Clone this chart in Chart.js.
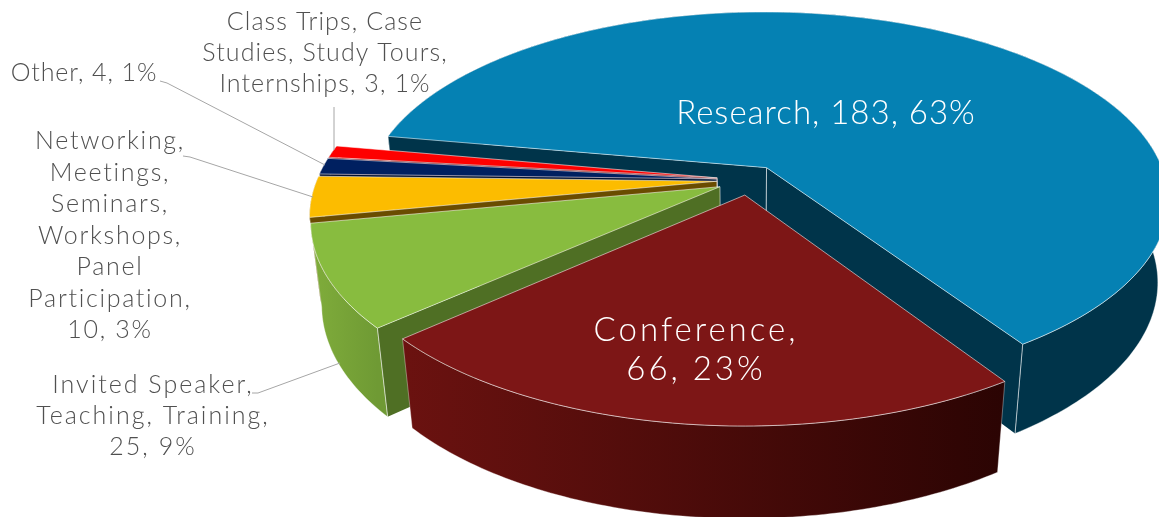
<!DOCTYPE html>
<html>
<head>
<meta charset="utf-8">
<style>
  html, body { margin: 0; padding: 0; background: #fff; }
  #wrap { width: 1159px; height: 517px; overflow: hidden; }
</style>
</head>
<body>
<div id="wrap"><canvas id="chart" width="1159" height="517"></canvas></div>
<script src="https://cdn.jsdelivr.net/npm/chart.js@4/dist/chart.umd.js"></script>
<script>
const categories = ['Research', 'Conference', 'Invited Speaker, Teaching, Training',
	'Networking, Meetings, Seminars, Workshops, Panel Participation', 'Other',
	'Class Trips, Case Studies, Study Tours, Internships'];
const values = [183, 66, 25, 10, 4, 3];
const percents = [63, 23, 9, 3, 1, 1];

const topColors = ['#0581b3', '#7d1616', '#88bc3f', '#fcbc00', '#002060', '#fe0000'];
const sideColors = ['#00344a', '#6b1210', '#4f6f24', '#6a4c00', '#001030', '#7f0000'];
const wallLeft = ['#00344a', '#6b1210', '#80ad3b', '#6a4c00', '#001030', '#7f0000'];
const wallRight = ['#00344a', '#2b0403', '#6f9a34', '#6a4c00', '#001030', '#7f0000'];

// wrapped the way the picture wraps them
const labelLines = [
	['Research, 183, 63%'],
	['Conference,', '66, 23%'],
	['Invited Speaker,', 'Teaching, Training,', '25, 9%'],
	['Networking,', 'Meetings,', 'Seminars,', 'Workshops,', 'Panel', 'Participation,', '10, 3%'],
	['Other, 4, 1%'],
	['Class Trips, Case', 'Studies, Study Tours,', 'Internships, 3, 1%']
];
const labelSpots = [
	{x: 826, y: 113, gap: 39, size: 33, track: 1.0, color: '#fff'},
	{x: 696, y: 330, gap: 39, size: 33, track: 3.0, color: '#fff'},
	{x: 153, y: 385, gap: 31, size: 25, track: 2.0, color: '#505050'},
	{x: 110, y: 141, gap: 31.5, size: 25, track: 1.7, color: '#505050'},
	{x: 84, y: 73, gap: 31, size: 25, track: 0.9, color: '#505050'},
	{x: 325, y: 22, gap: 31, size: 25, track: 1.1, color: '#505050'}
];
const leaders = [
	[[252, 393], [258, 393], [340, 363]],
	[[183, 156], [190, 157], [313, 197]],
	[[160, 81], [167, 83], [325, 165]],
	[[334, 107], [334, 150]]
];

// camera for the tilted pie: X,Y are on the pie plane (radius 1), Z goes down the wall
const cam = {cx: 749, cy: 180, rx: 400, ry: 186, k: 0.17, m: 0.025, drop: 84};
function project(X, Y, Z) {
	const w = 1 - cam.k * Y + cam.m * Z;
	return {x: cam.cx + cam.rx * X / w, y: cam.cy + (cam.ry * Y + cam.drop * Z) / w};
}

function poly(ctx, pts) {
	ctx.beginPath();
	pts.forEach((p, i) => i ? ctx.lineTo(p.x, p.y) : ctx.moveTo(p.x, p.y));
	ctx.closePath();
}

function drawSlice(ctx, arc, i) {
	const R = arc.outerRadius;
	const mid = (arc.startAngle + arc.endAngle) / 2;
	const ox = Math.cos(mid) * arc.options.offset / R;
	const oy = Math.sin(mid) * arc.options.offset / R;
	const rimTop = [], rimBottom = [];
	const steps = Math.max(6, Math.round((arc.endAngle - arc.startAngle) * 60));
	for (let s = 0; s <= steps; s++) {
		const a = arc.startAngle + (arc.endAngle - arc.startAngle) * s / steps;
		rimTop.push(project(ox + Math.cos(a), oy + Math.sin(a), 0));
		rimBottom.push(project(ox + Math.cos(a), oy + Math.sin(a), 1));
	}
	const apexTop = project(ox, oy, 0);
	const apexBottom = project(ox, oy, 1);
	const edge = 'rgba(255,255,255,0.55)';

	// outer wall
	const xs = rimTop.map(p => p.x);
	const grad = ctx.createLinearGradient(Math.min(...xs), 0, Math.max(...xs), 0);
	grad.addColorStop(0, wallLeft[i]);
	grad.addColorStop(1, wallRight[i]);
	poly(ctx, rimTop.concat(rimBottom.slice().reverse()));
	ctx.fillStyle = grad;
	ctx.fill();
	ctx.strokeStyle = 'rgba(255,255,255,0.35)';
	ctx.lineWidth = 1;
	ctx.stroke();

	// radial walls, only the ones that face the viewer
	const walls = [];
	if (rimTop[0].x < apexTop.x) walls.push([rimTop[0], rimBottom[0]]);
	if (rimTop[steps].x > apexTop.x) walls.push([rimTop[steps], rimBottom[steps]]);
	walls.forEach(([t, b]) => {
		poly(ctx, [apexTop, t, b, apexBottom]);
		ctx.fillStyle = sideColors[i];
		ctx.fill();
		ctx.strokeStyle = edge;
		ctx.beginPath();
		ctx.moveTo(t.x, t.y);
		ctx.lineTo(b.x, b.y);
		ctx.moveTo(apexTop.x, apexTop.y);
		ctx.lineTo(apexBottom.x, apexBottom.y);
		ctx.stroke();
	});

	// top face
	poly(ctx, [apexTop].concat(rimTop));
	ctx.fillStyle = topColors[i];
	ctx.fill();
	ctx.strokeStyle = edge;
	ctx.stroke();
}

const pie3d = {
	id: 'pie3d',
	beforeDatasetsDraw(chart) {
		const ctx = chart.ctx;
		const arcs = chart.getDatasetMeta(0).data;
		// back to front
		[0, 5, 4, 3, 2, 1].forEach(i => drawSlice(ctx, arcs[i], i));

		ctx.save();
		ctx.strokeStyle = '#a6a6a6';
		ctx.lineWidth = 1;
		leaders.forEach(line => {
			ctx.beginPath();
			line.forEach((p, n) => n ? ctx.lineTo(p[0], p[1]) : ctx.moveTo(p[0], p[1]));
			ctx.stroke();
		});
		ctx.textAlign = 'center';
		ctx.textBaseline = 'middle';
		labelLines.forEach((lines, i) => {
			const spot = labelSpots[i];
			ctx.font = '300 ' + spot.size + 'px Lato';
			ctx.letterSpacing = spot.track + 'px';
			ctx.fillStyle = spot.color;
			lines.forEach((text, n) => ctx.fillText(text, spot.x, spot.y + n * spot.gap));
		});
		ctx.restore();
		return false;
	}
};

new Chart(document.getElementById('chart'), {
	type: 'pie',
	data: {
		labels: categories,
		datasets: [{data: values, percents: percents, backgroundColor: topColors, offset: 20, borderWidth: 0}]
	},
	options: {
		responsive: false,
		animation: false,
		rotation: 280.2,
		layout: {padding: 0},
		plugins: {legend: {display: false}, tooltip: {enabled: false}}
	},
	plugins: [pie3d]
});
</script>
</body>
</html>
